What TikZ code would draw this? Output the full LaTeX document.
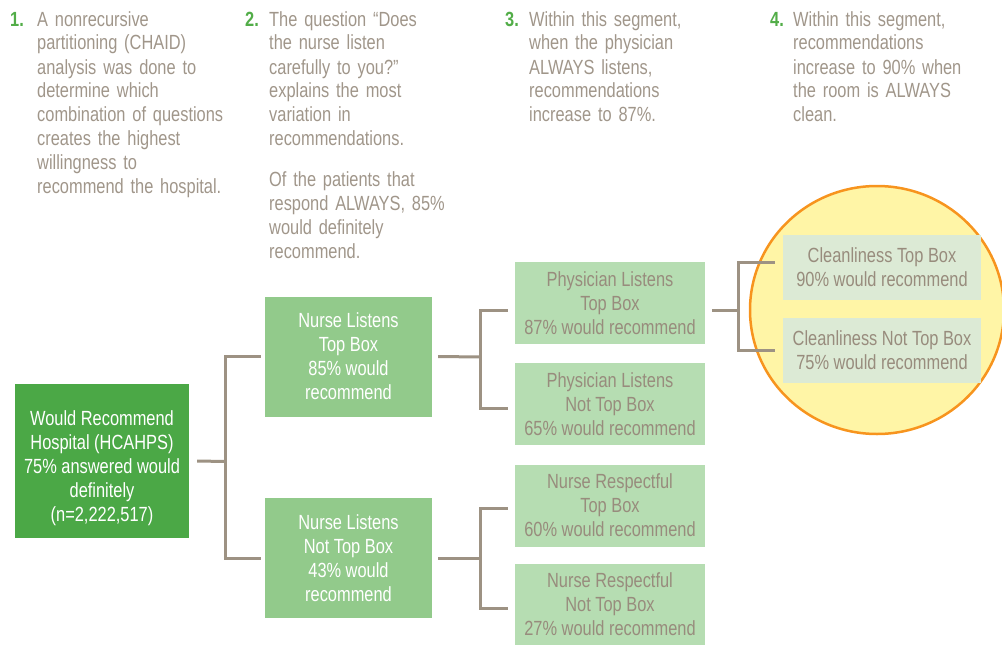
\documentclass[tikz,border=0pt]{standalone}
\usepackage{fontspec}
\setmainfont{Liberation Sans}[FakeStretch=0.8]
\definecolor{dkgreen}{HTML}{4BA846}
\definecolor{mdgreen}{HTML}{92CA8B}
\definecolor{ltgreen}{HTML}{B6DDB2}
\definecolor{plgreen}{HTML}{DCEAD5}
\definecolor{numgreen}{HTML}{52AD48}
\definecolor{hdtext}{HTML}{A0968A}
\definecolor{bxtext}{HTML}{988C7D}
\definecolor{connc}{HTML}{9D9283}
\definecolor{yellowfill}{HTML}{FFF5A6}
\definecolor{orangeline}{HTML}{F7941E}
\tikzset{
  txt/.style={font=\fontsize{20.5}{24}\selectfont},
  hdnum/.style={txt, anchor=base west, inner sep=0pt, text=numgreen, font=\fontsize{20.5}{24}\selectfont\bfseries},
  hdbody/.style={txt, anchor=base west, inner sep=0pt, text=hdtext, text width=#1, align=left},
  boxnode/.style={txt, rectangle, inner sep=0pt, align=center, minimum width=#1},
  rootbox/.style={boxnode=174pt, minimum height=154pt, fill=dkgreen, text=white},
  midbox/.style={boxnode=167pt, minimum height=120pt, fill=mdgreen, text=white},
  leafbox/.style={boxnode=190pt, minimum height=82pt, fill=ltgreen, text=bxtext},
  cleanbox/.style={boxnode=198pt, minimum height=65pt, fill=plgreen, text=bxtext},
  conn/.style={draw=connc, line width=3pt}
}
\begin{document}
\begin{tikzpicture}[x=1pt,y=-1pt]
\useasboundingbox (0,0) rectangle (1002,645);

% headers
\node[hdnum] (n1) at (10,26) {1.};
\node[hdbody=200pt] (h1) at (37,26) {A nonrecursive\\partitioning (CHAID)\\analysis was done to\\determine which\\combination of questions\\creates the highest\\willingness to\\recommend the hospital.};
\node[hdnum] (n2) at (245,26) {2.};
\node[hdbody=200pt] (h2) at (269,26) {The question \textquotedblleft Does\\the nurse listen\\carefully to you?\textquotedblright\\explains the most\\variation in\\recommendations.};
\node[hdbody=200pt] (h2b) at (269,186) {Of the patients that\\respond ALWAYS, 85\%\\would definitely\\recommend.};
\node[hdnum] (n3) at (505,26) {3.};
\node[hdbody=200pt] (h3) at (529,26) {Within this segment,\\when the physician\\ALWAYS listens,\\recommendations\\increase to 87\%.};
\node[hdnum] (n4) at (770,26) {4.};
\node[hdbody=200pt] (h4) at (793,26) {Within this segment,\\recommendations\\increase to 90\% when\\the room is ALWAYS\\clean.};

% highlight ellipse
\draw[fill=yellowfill, draw=orangeline, line width=2.5pt] (877,310) ellipse [x radius=127pt, y radius=124pt];

% boxes
\node[rootbox] (root) at (102,461) {\raisebox{-8pt}[\height][\depth]{\begin{tabular}{@{}c@{}}Would Recommend\\Hospital (HCAHPS)\\75\% answered would\\definitely\\(n=2,222,517)\end{tabular}}};
\node[midbox] (NT) at (348.5,356.5) {Nurse Listens\\Top Box\\85\% would\\recommend};
\node[midbox] (NN) at (348.5,558) {Nurse Listens\\Not Top Box\\43\% would\\recommend};
\node[leafbox] (PT) at (610,303) {Physician Listens\\Top Box\\87\% would recommend};
\node[leafbox] (PN) at (610,404) {Physician Listens\\Not Top Box\\65\% would recommend};
\node[leafbox] (RT) at (610,505.5) {Nurse Respectful\\Top Box\\60\% would recommend};
\node[leafbox, minimum height=81pt] (RN) at (610,604.5) {Nurse Respectful\\Not Top Box\\27\% would recommend};
\node[cleanbox] (CT) at (882,267.5) {Cleanliness Top Box\\90\% would recommend};
\node[cleanbox] (CN) at (882,350.5) {Cleanliness Not Top Box\\75\% would recommend};

% connectors
\coordinate (j1) at (225,461.5);
\draw[conn] ([xshift=8pt]root.east) -- (j1);
\draw[conn] ([xshift=-4pt]NT.west) -| (j1) |- ([xshift=-4pt]NN.west);

\coordinate (j2) at (480,357);
\draw[conn] ([xshift=6pt]NT.east) -- (j2);
\draw[conn] ([xshift=-7pt,yshift=-7pt]PT.west) -| (j2) |- ([xshift=-7pt,yshift=-4pt]PN.west);

\coordinate (j3) at (480,558);
\draw[conn] ([xshift=6pt]NN.east) -- (j3);
\draw[conn] ([xshift=-7pt,yshift=-2.5pt]RT.west) -| (j3) |- ([xshift=-7pt,yshift=-3.5pt]RN.west);

\coordinate (j4) at (738,310);
\draw[conn] ([xshift=7pt,yshift=-7pt]PT.east) -- (j4);
\draw[conn] ([xshift=-8pt,yshift=5.5pt]CT.west) -| (j4) |- ([xshift=-8pt]CN.west);
\end{tikzpicture}
\end{document}
